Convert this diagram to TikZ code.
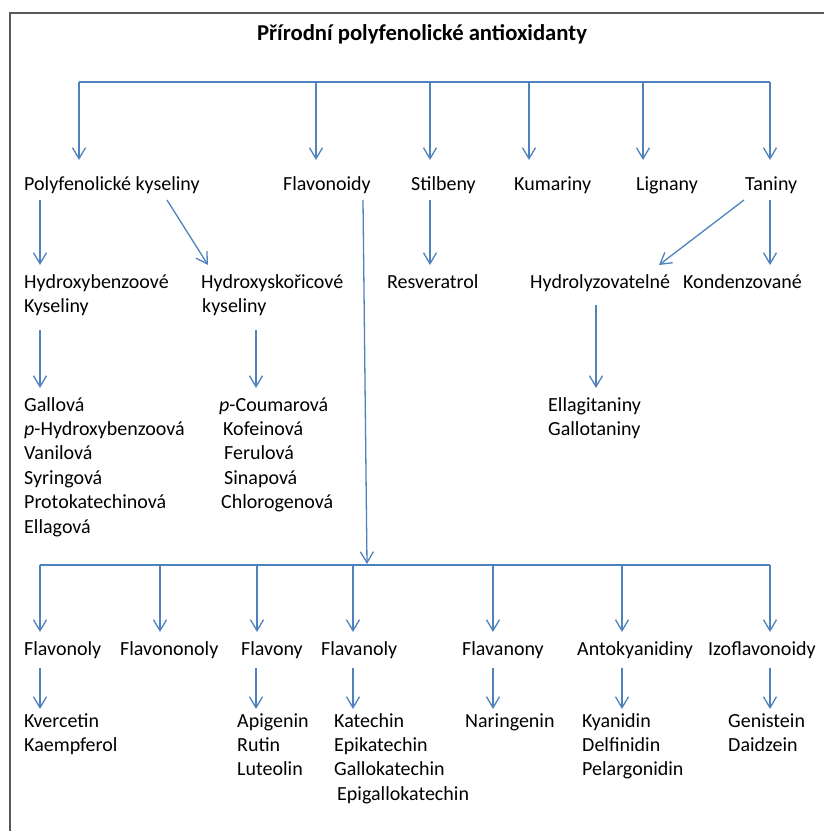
\documentclass[tikz,border=0pt]{standalone}
\usepackage{fontspec}
\setmainfont{Carlito}
\usetikzlibrary{arrows.meta}
\definecolor{arrowblue}{HTML}{4F81BD}
\definecolor{framegray}{HTML}{595959}
\begin{document}
\begin{tikzpicture}[x=1pt,y=-1pt,
  lbl/.style={anchor=base west,inner sep=0pt,font=\fontsize{20}{24.4}\selectfont,align=left},
  arr/.style={draw=arrowblue,line width=1.3pt,-{Straight Barb[length=11pt,width=13pt,line width=1.3pt]}},
  bus/.style={draw=arrowblue,line width=1.3pt}]
\useasboundingbox (0,0) rectangle (824,831);
% frame
\draw[framegray,line width=2pt] (9.5,832) -- (9.5,12.5) -- (826,12.5);
% title
\node[anchor=base,inner sep=0pt,font=\fontsize{22.7}{27}\selectfont\bfseries] (title) at (422,40) {Přírodní polyfenolické antioxidanty};
% row 1
\node[lbl] (polyk) at (24,190) {Polyfenolické kyseliny};
\node[lbl] (flavd) at (283,190) {Flavonoidy};
\node[lbl] (stilb) at (411,190) {Stilbeny};
\node[lbl] (kumar) at (514,190) {Kumariny};
\node[lbl] (lign) at (636,190) {Lignany};
\node[lbl] (tanin) at (745,190) {Taniny};
% row 2 (base anchor = baseline of last line)
\node[lbl] (hbenz) at (24,312.4) {Hydroxybenzoové\\Kyseliny};
\node[lbl] (hskor) at (201,312.4) {Hydroxyskořicové\\\hspace{1pt}kyseliny};
\node[lbl] (resv) at (387,288) {Resveratrol};
\node[lbl] (hydro) at (530,288) {Hydrolyzovatelné};
\node[lbl] (konden) at (683,288) {Kondenzované};
% row 3
\node[lbl] (benzlist) at (24,533) {Gallová\\\textit{p}-Hydroxybenzoová\\Vanilová\\Syringová\\Protokatechinová\\Ellagová};
\node[lbl] (skorlist) at (219,508.6) {\textit{p}-Coumarová\\\hspace{4pt}Kofeinová\\\hspace{5pt}Ferulová\\\hspace{5pt}Sinapová\\\hspace{2pt}Chlorogenová};
\node[lbl] (hydrolist) at (548,435.4) {Ellagitaniny\\Gallotaniny};
% row 4
\node[lbl] (flavonoly) at (24,655) {Flavonoly};
\node[lbl] (flavononoly) at (120,655) {Flavononoly};
\node[lbl] (flavony) at (241,655) {Flavony};
\node[lbl] (flavanoly) at (321,655) {Flavanoly};
\node[lbl] (flavanony) at (462,655) {Flavanony};
\node[lbl] (antok) at (577,655) {Antokyanidiny};
\node[lbl] (izofl) at (708,655) {Izoflavonoidy};
% row 5
\node[lbl] (l1) at (24,751.4) {Kvercetin\\Kaempferol};
\node[lbl] (l3) at (237,775.8) {Apigenin\\Rutin\\Luteolin};
\node[lbl] (l4) at (334,800.2) {Katechin\\Epikatechin\\Gallokatechin\\\hspace{3pt}Epigallokatechin};
\node[lbl] (l5) at (465,727) {Naringenin};
\node[lbl] (l6) at (582,775.8) {Kyanidin\\Delfinidin\\Pelargonidin};
\node[lbl] (l7) at (728,751.4) {Genistein\\Daidzein};
% top bus
\draw[bus] (79,82) -- (770,82);
\foreach \x in {79,316,430,529,643,770} \draw[arr] (\x,82) -- (\x,160);
% row 1 -> row 2
\draw[arr] (40,200) -- (40,265);
\draw[arr] (167,200) -- (208,265);
\draw[arr] (430,200) -- (430,265);
\draw[arr] (744,200) -- (659,265);
\draw[arr] (770,200) -- (770,265);
\draw[arr] (363,200) -- (367,564);
% row 2 -> row 3
\draw[arr] (40,330) -- (40,388);
\draw[arr] (256,330) -- (256,388);
\draw[arr] (596,305) -- (596,388);
% bottom bus
\draw[bus] (40,565) -- (770,565);
\foreach \x in {40,160,257,353,493,622,770} \draw[arr] (\x,565) -- (\x,632);
% row 4 -> row 5
\foreach \x in {40,256,353,493,622,770} \draw[arr] (\x,668) -- (\x,709);
\end{tikzpicture}
\end{document}
